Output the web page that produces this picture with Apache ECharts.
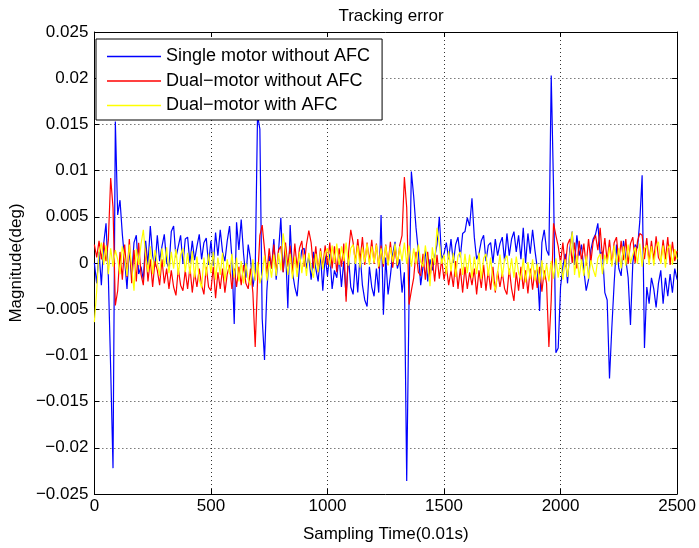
<!DOCTYPE html>
<html>
<head>
<meta charset="utf-8">
<script src="https://cdn.jsdelivr.net/npm/echarts@6/dist/echarts.min.js"></script>
<style>html,body{margin:0;padding:0;background:#fff}#c{width:699px;height:548px}</style>
</head>
<body>
<div id="c"></div>
<script>
// Sample index step between stored readings (every 10th sample, 0..2500)
var sampleStep = 10;
var seriesNames = ['Single motor without AFC', 'Dual\u2212motor without AFC', 'Dual\u2212motor with AFC'];
var xTicks = [0, 500, 1000, 1500, 2000, 2500];
var yTicks = [-0.025, -0.02, -0.015, -0.01, -0.005, 0, 0.005, 0.01, 0.015, 0.02, 0.025];

var singleMotor = [
 0.0000,-0.0022,0.0012,-0.0024,0.0021,0.0043,-0.0015,-0.0115,-0.0222,0.0153,
 0.0052,0.0068,0.0031,0.0003,-0.0028,0.0016,-0.0014,0.0022,0.0030,-0.0012,
 -0.0004,-0.0018,0.0024,-0.0002,0.0040,0.0008,-0.0004,0.0030,0.0002,0.0018,
 0.0031,0.0001,-0.0006,0.0034,0.0040,0.0006,0.0018,0.0030,-0.0001,0.0026,
 0.0028,0.0000,0.0024,0.0003,0.0018,0.0031,0.0004,0.0022,0.0027,-0.0002,
 0.0024,-0.0003,0.0033,0.0008,0.0036,0.0012,0.0002,0.0024,0.0040,0.0006,
 -0.0066,0.0044,0.0014,0.0047,0.0010,-0.0016,0.0020,0.0004,-0.0026,-0.0010,
 0.0160,0.0145,-0.0060,-0.0105,-0.0030,0.0008,-0.0006,0.0026,-0.0018,0.0012,
 0.0049,-0.0010,0.0018,-0.0049,0.0041,-0.0010,-0.0026,-0.0036,-0.0004,0.0014,
 0.0016,-0.0006,0.0008,-0.0018,0.0012,-0.0006,-0.0020,0.0010,-0.0030,0.0008,
 -0.0014,0.0010,-0.0028,-0.0008,-0.0016,0.0008,-0.0026,0.0002,-0.0036,0.0008,
 -0.0026,-0.0034,0.0002,-0.0032,0.0010,-0.0024,-0.0040,-0.0047,-0.0004,-0.0026,
 -0.0036,-0.0006,-0.0032,0.0052,-0.0056,0.0006,-0.0034,-0.0014,0.0010,0.0023,
 -0.0006,0.0004,-0.0032,-0.0010,-0.0236,-0.0040,0.0099,0.0072,0.0038,0.0012,
 -0.0024,-0.0004,0.0014,-0.0020,0.0004,-0.0008,0.0006,0.0020,0.0050,0.0004,
 0.0010,0.0022,0.0004,0.0026,0.0000,0.0020,0.0028,0.0006,0.0032,0.0034,
 0.0049,0.0040,0.0070,0.0028,0.0004,0.0010,0.0024,0.0030,0.0002,0.0019,
 0.0022,0.0000,0.0026,0.0008,0.0021,0.0028,0.0002,0.0032,0.0008,0.0026,
 0.0034,0.0012,0.0030,0.0004,0.0038,0.0000,0.0032,0.0010,0.0036,0.0014,
 -0.0005,-0.0052,0.0022,0.0036,0.0014,0.0008,0.0203,0.0080,-0.0097,-0.0092,
 -0.0026,-0.0004,0.0010,-0.0022,0.0016,0.0034,-0.0002,0.0030,0.0008,0.0020,
 -0.0008,-0.0030,-0.0018,0.0014,0.0026,0.0031,0.0043,0.0010,0.0012,-0.0032,
 -0.0040,-0.0125,-0.0070,-0.0022,0.0020,-0.0006,-0.0014,0.0024,0.0004,-0.0016,
 -0.0067,0.0000,0.0020,0.0016,0.0045,0.0095,-0.0092,-0.0026,-0.0044,-0.0016,
 -0.0028,-0.0048,-0.0022,-0.0008,-0.0044,-0.0016,-0.0036,-0.0012,-0.0032,-0.0006,
 -0.0018
];

var dualMotor = [
 0.0020,0.0006,0.0024,0.0004,0.0022,0.0002,0.0025,0.0092,0.0060,-0.0046,
 -0.0030,0.0012,-0.0018,0.0020,-0.0015,0.0026,-0.0022,0.0014,-0.0020,0.0022,
 -0.0012,-0.0024,0.0016,-0.0020,0.0004,-0.0026,0.0002,-0.0008,-0.0024,0.0004,
 -0.0022,-0.0006,-0.0028,-0.0008,-0.0026,-0.0035,-0.0006,-0.0024,-0.0030,-0.0008,
 -0.0028,-0.0004,-0.0032,-0.0010,-0.0026,-0.0006,-0.0024,-0.0034,-0.0004,-0.0026,
 -0.0030,-0.0004,-0.0038,-0.0010,-0.0028,-0.0006,-0.0032,-0.0012,-0.0002,-0.0028,
 -0.0006,-0.0026,-0.0004,-0.0024,-0.0002,-0.0022,-0.0028,-0.0006,-0.0032,-0.0091,
 -0.0020,0.0030,0.0041,0.0015,-0.0012,0.0016,-0.0006,0.0020,-0.0010,0.0014,
 0.0018,-0.0010,0.0022,-0.0004,0.0019,-0.0012,0.0021,-0.0006,0.0016,0.0024,
 -0.0004,0.0020,0.0035,0.0022,-0.0006,0.0018,-0.0010,0.0016,-0.0005,0.0019,
 -0.0002,0.0022,-0.0006,0.0018,-0.0010,0.0016,-0.0004,0.0021,-0.0042,0.0010,
 0.0036,0.0022,0.0000,0.0026,0.0002,0.0028,-0.0002,0.0022,0.0001,0.0025,
 -0.0001,0.0021,-0.0006,0.0019,-0.0004,0.0020,-0.0002,0.0023,-0.0005,0.0017,
 -0.0003,0.0019,0.0030,0.0093,0.0060,-0.0045,-0.0030,-0.0016,0.0012,-0.0010,
 -0.0014,0.0010,-0.0018,0.0012,-0.0016,0.0005,-0.0020,0.0009,-0.0017,0.0004,
 -0.0018,-0.0004,-0.0024,-0.0008,-0.0026,0.0002,-0.0028,-0.0006,-0.0032,-0.0004,
 -0.0028,-0.0010,-0.0024,-0.0006,-0.0034,-0.0008,-0.0027,-0.0002,-0.0030,-0.0008,
 -0.0029,-0.0004,-0.0032,-0.0009,-0.0026,-0.0010,-0.0028,-0.0034,-0.0006,-0.0028,
 -0.0041,-0.0010,-0.0030,-0.0004,-0.0028,-0.0008,-0.0033,-0.0006,-0.0029,-0.0008,
 -0.0027,-0.0004,-0.0031,-0.0008,-0.0022,-0.0091,-0.0040,0.0043,0.0030,0.0018,
 0.0000,0.0022,-0.0004,0.0020,0.0026,0.0000,0.0022,-0.0006,0.0024,0.0002,
 0.0021,-0.0003,0.0026,0.0001,0.0023,0.0030,0.0014,0.0038,0.0004,0.0027,
 0.0002,0.0025,-0.0002,0.0022,0.0028,0.0001,0.0024,0.0003,0.0026,-0.0001,
 0.0021,0.0028,0.0000,0.0023,0.0032,0.0030,0.0004,0.0027,0.0001,0.0024,
 0.0003,0.0029,0.0006,0.0001,0.0025,0.0004,0.0028,-0.0002,0.0023,0.0002,
 0.0013
];

var dualMotorAFC = [
 -0.0064,-0.0030,0.0012,0.0022,-0.0002,0.0019,-0.0012,0.0016,-0.0004,0.0014,
 0.0004,-0.0012,0.0018,0.0006,-0.0014,0.0020,-0.0004,-0.0030,0.0015,-0.0002,
 0.0020,0.0036,0.0008,-0.0010,0.0018,-0.0012,0.0014,0.0000,-0.0014,0.0016,
 -0.0004,0.0017,-0.0011,0.0012,-0.0006,0.0015,-0.0013,0.0009,0.0016,-0.0010,
 0.0011,-0.0012,0.0013,-0.0016,0.0007,-0.0018,-0.0027,0.0006,-0.0014,0.0010,
 -0.0011,0.0012,-0.0018,0.0006,-0.0013,0.0011,-0.0020,0.0004,-0.0012,0.0010,
 -0.0016,0.0006,-0.0020,0.0002,-0.0022,0.0000,-0.0018,-0.0024,0.0004,-0.0019,
 0.0001,-0.0022,-0.0012,0.0008,-0.0019,0.0002,-0.0016,0.0009,-0.0014,0.0011,
 -0.0008,0.0032,0.0012,-0.0013,0.0010,-0.0017,0.0007,-0.0015,0.0012,-0.0011,
 0.0009,-0.0014,0.0011,-0.0006,-0.0016,0.0010,-0.0010,0.0013,-0.0007,0.0011,
 0.0016,-0.0004,0.0019,0.0000,0.0021,-0.0002,0.0018,0.0002,0.0022,-0.0003,
 0.0016,0.0020,-0.0001,0.0019,-0.0005,0.0017,0.0001,0.0021,-0.0002,0.0018,
 0.0000,0.0020,-0.0004,0.0016,-0.0001,0.0019,-0.0003,0.0017,0.0001,0.0021,
 -0.0002,0.0018,0.0002,0.0022,-0.0001,0.0019,-0.0004,0.0016,-0.0001,0.0020,
 0.0001,-0.0004,0.0019,0.0000,-0.0025,0.0017,-0.0002,0.0038,0.0021,-0.0001,
 0.0009,-0.0012,0.0013,-0.0009,0.0011,-0.0015,0.0008,0.0012,-0.0013,0.0010,
 -0.0011,0.0009,-0.0016,0.0007,-0.0012,0.0011,-0.0017,0.0005,0.0010,-0.0014,
 0.0006,-0.0019,-0.0030,-0.0011,0.0009,-0.0015,0.0004,0.0008,-0.0013,0.0005,
 -0.0016,0.0007,-0.0011,-0.0018,0.0005,-0.0021,0.0001,-0.0017,0.0004,-0.0019,
 -0.0001,-0.0022,0.0003,-0.0018,-0.0001,-0.0020,0.0002,-0.0017,0.0005,-0.0016,
 0.0003,-0.0018,0.0004,-0.0015,0.0009,0.0034,-0.0013,0.0008,-0.0016,0.0004,
 -0.0014,0.0008,-0.0017,0.0003,-0.0007,-0.0015,0.0005,0.0010,-0.0012,0.0009,
 -0.0001,0.0017,-0.0004,0.0019,-0.0002,0.0016,-0.0006,0.0018,-0.0003,0.0020,
 0.0000,0.0009,0.0017,-0.0001,0.0021,-0.0004,0.0016,0.0019,-0.0002,0.0018,
 -0.0003,0.0017,0.0023,-0.0001,0.0019,-0.0005,0.0016,0.0020,-0.0002,0.0015,
 0.0004
];

function pairs(vals) {
  return vals.map(function (v, i) { return [i * sampleStep, v]; });
}
function fmtY(v) {
  var s = String(+v.toFixed(3));
  return s.replace('-', '\u2212');
}
function fmtX(v) { return String(Math.round(v)); }

var FONT = '"Liberation Sans", Arial, Helvetica, sans-serif';
var chart = echarts.init(document.getElementById('c'), null, { renderer: 'canvas' });
var tickStyle = { show: true, inside: true, length: 5, lineStyle: { color: '#000', width: 1 } };
var gridLine = { show: true, lineStyle: { color: '#333', width: 1, type: [1, 3] } };

chart.setOption({
  animation: false,
  backgroundColor: '#fff',
  title: {
    text: 'Tracking error', left: 386, top: 3, textAlign: 'center',
    textStyle: { fontFamily: FONT, fontSize: 17, fontWeight: 'normal', color: '#000' }
  },
  legend: {
    data: seriesNames, orient: 'vertical', left: 96, top: 39,
    icon: 'rect',
    backgroundColor: '#fff', borderColor: '#000', borderWidth: 1, borderRadius: 0,
    padding: [7, 12, 4, 11], itemGap: 3.5, itemWidth: 54, itemHeight: 1.5,
    textStyle: { fontFamily: FONT, fontSize: 18, color: '#000', lineHeight: 21 },
    z: 10
  },
  grid: { left: 94, right: 21, top: 32, bottom: 54, show: false },
  xAxis: [{
    type: 'value', min: 0, max: 2500, interval: 500,
    name: 'Sampling Time(0.01s)', nameLocation: 'middle', nameGap: 32,
    nameTextStyle: { fontFamily: FONT, fontSize: 17, color: '#000' },
    axisLine: { show: true, onZero: false, lineStyle: { color: '#000', width: 1 } },
    axisTick: tickStyle,
    axisLabel: { fontFamily: FONT, fontSize: 17, color: '#000', margin: 4, formatter: fmtX, showMinLabel: true, showMaxLabel: true },
    splitLine: gridLine
  }, {
    type: 'value', min: 0, max: 2500, interval: 500, position: 'top',
    axisLine: { show: true, onZero: false, lineStyle: { color: '#000', width: 1 } },
    axisTick: tickStyle, axisLabel: { show: false }, splitLine: { show: false }
  }],
  yAxis: [{
    type: 'value', min: -0.025, max: 0.025, interval: 0.005,
    name: 'Magnitude(deg)', nameLocation: 'middle', nameGap: 63,
    nameTextStyle: { fontFamily: FONT, fontSize: 17, color: '#000' },
    axisLine: { show: true, onZero: false, lineStyle: { color: '#000', width: 1 } },
    axisTick: tickStyle,
    axisLabel: { fontFamily: FONT, fontSize: 17, color: '#000', margin: 6, formatter: fmtY, showMinLabel: true, showMaxLabel: true },
    splitLine: gridLine
  }, {
    type: 'value', min: -0.025, max: 0.025, interval: 0.005, position: 'right',
    axisLine: { show: true, onZero: false, lineStyle: { color: '#000', width: 1 } },
    axisTick: tickStyle, axisLabel: { show: false }, splitLine: { show: false }
  }],
  series: [
    { name: seriesNames[0], type: 'line', data: pairs(singleMotor), symbol: 'none', showSymbol: false,
      lineStyle: { color: '#0000ff', width: 1.2 }, itemStyle: { color: '#0000ff' }, z: 2 },
    { name: seriesNames[1], type: 'line', data: pairs(dualMotor), symbol: 'none', showSymbol: false,
      lineStyle: { color: '#ff0000', width: 1.2 }, itemStyle: { color: '#ff0000' }, z: 3 },
    { name: seriesNames[2], type: 'line', data: pairs(dualMotorAFC), symbol: 'none', showSymbol: false,
      lineStyle: { color: '#ffff00', width: 1.2 }, itemStyle: { color: '#ffff00' }, z: 4 }
  ]
});
</script>
</body>
</html>
